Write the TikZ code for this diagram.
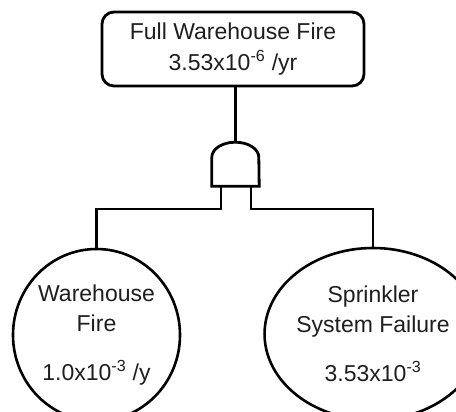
\documentclass[tikz,border=0pt]{standalone}
\usepackage{fontspec}
\setmainfont{Liberation Sans}
\usepackage{tikz}
\usetikzlibrary{shapes.geometric,positioning,calc}
\definecolor{ftLine}{RGB}{0,0,0}
\definecolor{ftText}{RGB}{30,30,30}

\begin{document}
\begin{tikzpicture}[
    x=1pt, y=-1pt,
    event/.style={draw=ftLine, line width=2.8pt, rounded corners=12pt, minimum width=262pt, minimum height=74pt, align=center, inner sep=0pt, text=ftText},
    basic/.style={ellipse, draw=ftLine, line width=2.6pt, minimum width=#1, minimum height=172pt, align=center, inner sep=0pt, text=ftText},
    gatebox/.style={minimum width=47pt, minimum height=44pt, inner sep=0pt},
    wire/.style={draw=ftLine, line width=2.8pt}
]
\useasboundingbox (0,0) rectangle (456,412);
\fontsize{23}{30}\selectfont

\node[event] (top) at (233,49) {Full Warehouse Fire\\[1pt]3.53x10\textsuperscript{-6} /yr};
\node[gatebox] (gate) at (235.5,164) {};
\node[basic=167pt] (fire) at (96.5,335) {Warehouse\\Fire\\[19pt]1.0x10\textsuperscript{-3} /y};
\node[basic=160pt] (sprink) at (373,334) {Sprinkler\\System Failure\\[19pt]3.53x10\textsuperscript{-3}};

% AND gate
\draw[wire, line join=miter] (gate.south west) -- ++(0,-29) arc[start angle=180, end angle=0, x radius=23.5pt, y radius=15pt] -- (gate.south east) -- cycle;

\coordinate (legL) at (221,209);
\coordinate (legR) at (251,209);

\draw[wire] (top.south -| gate.north) -- (gate.north);
\draw[wire] (gate.south -| legL) -- (legL) -| (fire);
\draw[wire] (gate.south -| legR) -- (legR) -| (sprink);
\end{tikzpicture}
\end{document}
